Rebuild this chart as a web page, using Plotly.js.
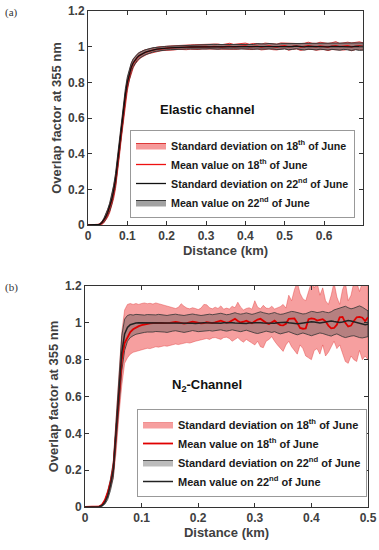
<!DOCTYPE html>
<html><head><meta charset="utf-8">
<script src="https://cdn.plot.ly/plotly-3.0.1.min.js"></script>
<style>html,body{margin:0;padding:0;background:#fff}#chart{width:379px;height:550px}</style>
</head><body><div id="chart"></div>
<script>
// ---------- Panel (a): Elastic channel ----------
const topX = [
0,0.01,0.02,0.025,0.03,0.035,0.04,0.045,0.05,0.055,
0.06,0.065,0.07,0.075,0.08,0.085,0.09,0.095,0.1,0.105,
0.11,0.115,0.12,0.125,0.13,0.135,0.14,0.145,0.15,0.155,
0.16,0.165,0.17,0.175,0.18,0.185,0.19,0.195,0.2,
0.21,0.22,0.23,0.24,0.25,0.26,0.27,0.28,0.29,0.3,
0.31,0.32,0.33,0.34,0.35,0.36,0.37,0.38,0.39,0.4,
0.41,0.42,0.43,0.44,0.45,0.46,0.47,0.48,0.49,0.5,
0.51,0.52,0.53,0.54,0.55,0.56,0.57,0.58,0.59,0.6,
0.61,0.62,0.63,0.64,0.65,0.66,0.67,0.68,0.69,0.7];
const topMean18 = [
0,0,0,0.001,0.003,0.01,0.022,0.04,0.063,0.092,
0.13,0.178,0.24,0.33,0.43,0.53,0.625,0.71,0.785,0.84,
0.878,0.905,0.924,0.937,0.948,0.956,0.962,0.967,0.971,0.975,
0.978,0.981,0.983,0.985,0.987,0.988,0.989,0.99,0.991,
0.993,0.994,0.996,0.997,0.996,0.998,0.999,0.998,1.0,1.001,
0.999,1.002,1.0,0.998,1.001,1.003,0.999,1.0,1.002,1.004,
0.999,1.001,1.003,0.998,1.002,1.004,1.0,0.998,1.003,1.005,
0.999,1.002,1.004,0.998,1.001,1.005,1.002,0.999,1.004,1.002,
0.998,1.003,1.006,1.0,1.002,1.005,0.999,1.003,1.006,1.001];
const topSd18 = [
0,0,0,0.001,0.003,0.007,0.011,0.015,0.019,0.023,
0.027,0.031,0.035,0.037,0.039,0.039,0.037,0.035,0.031,0.028,
0.025,0.023,0.021,0.019,0.018,0.017,0.016,0.015,0.014,0.014,
0.013,0.013,0.012,0.012,0.012,0.011,0.011,0.011,0.011,
0.011,0.012,0.011,0.012,0.013,0.012,0.012,0.014,0.013,0.012,
0.014,0.013,0.015,0.013,0.014,0.016,0.014,0.015,0.013,0.016,
0.015,0.017,0.014,0.016,0.018,0.015,0.017,0.016,0.018,0.015,
0.019,0.017,0.016,0.019,0.018,0.02,0.017,0.019,0.021,0.018,
0.02,0.019,0.022,0.018,0.021,0.02,0.022,0.019,0.021,0.02];
const topMean22 = [
0,0,0,0.001,0.004,0.012,0.026,0.045,0.07,0.1,
0.14,0.19,0.255,0.35,0.45,0.55,0.645,0.73,0.8,0.85,
0.885,0.91,0.928,0.94,0.95,0.957,0.963,0.968,0.972,0.976,
0.979,0.982,0.984,0.986,0.988,0.989,0.99,0.991,0.992,
0.993,0.995,0.996,0.996,0.997,0.998,0.998,0.999,1.0,0.999,
1.0,1.001,0.999,1.0,1.002,1.0,0.999,1.001,1.002,1.0,
1.001,0.999,1.002,1.001,1.0,1.002,1.001,0.999,1.001,1.002,
1.0,1.001,1.003,1.0,0.999,1.002,1.001,1.0,1.003,1.001,
0.999,1.002,1.001,1.0,1.003,1.001,0.999,1.002,1.0,1.001];
const topSd22 = [
0,0,0,0.001,0.003,0.006,0.01,0.014,0.018,0.022,
0.026,0.03,0.034,0.036,0.038,0.038,0.036,0.034,0.03,0.027,
0.024,0.022,0.02,0.018,0.017,0.016,0.015,0.014,0.013,0.013,
0.012,0.012,0.011,0.011,0.011,0.01,0.01,0.01,0.01,
0.01,0.01,0.011,0.011,0.01,0.011,0.012,0.011,0.012,0.012,
0.011,0.012,0.013,0.012,0.013,0.013,0.012,0.014,0.013,0.014,
0.014,0.013,0.015,0.014,0.015,0.016,0.014,0.015,0.016,0.015,
0.017,0.016,0.015,0.017,0.018,0.016,0.017,0.018,0.017,0.019,
0.018,0.017,0.019,0.02,0.018,0.019,0.02,0.019,0.021,0.02];

// ---------- Panel (b): N2 channel ----------
const botX = [
0,0.01,0.02,0.025,0.03,0.035,0.04,0.045,0.05,0.055,
0.06,0.065,0.07,0.075,0.08,0.085,0.09,0.095,0.1,
0.105,0.11,0.115,0.12,0.125,0.13,0.135,0.14,0.145,0.15,
0.155,0.16,0.165,0.17,0.175,0.18,0.185,0.19,0.195,0.2,
0.205,0.21,0.215,0.22,0.225,0.23,0.235,0.24,0.245,0.25,
0.255,0.26,0.265,0.27,0.275,0.28,0.285,0.29,0.295,0.3,
0.305,0.31,0.315,0.32,0.325,0.33,0.335,0.34,0.345,0.35,
0.355,0.36,0.365,0.37,0.375,0.38,0.385,0.39,0.395,0.4,
0.405,0.41,0.415,0.42,0.425,0.43,0.435,0.44,0.445,0.45,
0.455,0.46,0.465,0.47,0.475,0.48,0.485,0.49,0.495,0.5];
const botMean18 = [
0,0,0,0.003,0.012,0.035,0.075,0.13,0.21,0.4,
0.62,0.8,0.89,0.925,0.95,0.965,0.975,0.982,0.988,
0.992,0.995,0.997,0.999,1.0,1.002,1.0,0.998,0.997,1.0,
1.003,1.005,1.002,0.999,0.996,0.998,1.002,1.006,1.004,1.0,
0.997,0.999,1.003,1.001,0.998,1.002,1.008,1.012,1.006,1.0,
1.004,1.015,1.022,1.01,1.002,1.006,1.012,1.004,0.998,1.008,
1.018,1.022,1.01,1.0,0.994,1.004,1.012,0.998,0.988,0.986,
0.995,1.022,1.025,1.024,1.0,0.972,0.968,0.97,1.02,1.024,
1.022,1.012,1.016,1.02,1.008,0.985,0.97,0.972,0.99,1.03,
1.032,1.0,0.98,0.985,1.01,1.03,1.032,1.028,1.01,1.03];
const botUp18 = [
0,0,0,0.004,0.016,0.045,0.09,0.15,0.25,0.5,
0.75,0.95,1.07,1.1,1.105,1.1,1.105,1.1,1.105,
1.108,1.104,1.106,1.102,1.108,1.104,1.1,1.096,1.09,1.085,
1.082,1.078,1.084,1.104,1.09,1.08,1.076,1.082,1.078,1.072,
1.08,1.1,1.098,1.082,1.076,1.085,1.078,1.092,1.074,1.08,
1.075,1.09,1.082,1.112,1.085,1.07,1.078,1.082,1.074,1.12,
1.085,1.076,1.095,1.08,1.078,1.09,1.075,1.082,1.088,1.1,
1.08,1.15,1.12,1.18,1.22,1.16,1.13,1.12,1.17,1.22,
1.19,1.22,1.15,1.19,1.12,1.1,1.15,1.22,1.14,1.1,
1.18,1.22,1.12,1.15,1.22,1.22,1.17,1.22,1.22,1.22];
const botLo18 = [
0,0,0,0.001,0.006,0.02,0.05,0.1,0.16,0.3,
0.5,0.66,0.78,0.81,0.83,0.84,0.845,0.85,0.855,
0.858,0.862,0.86,0.865,0.87,0.868,0.872,0.875,0.873,0.878,
0.88,0.885,0.882,0.888,0.89,0.893,0.89,0.895,0.9,0.905,
0.91,0.912,0.915,0.91,0.918,0.92,0.915,0.91,0.92,0.922,
0.915,0.9,0.91,0.92,0.905,0.895,0.91,0.9,0.89,0.88,
0.9,0.87,0.865,0.9,0.91,0.925,0.9,0.88,0.86,0.845,
0.88,0.9,0.87,0.85,0.83,0.88,0.86,0.82,0.81,0.8,
0.85,0.86,0.83,0.88,0.82,0.84,0.87,0.9,0.86,0.88,
0.83,0.79,0.78,0.82,0.8,0.79,0.85,0.8,0.82,0.8];
const botMean22 = [
0,0,0,0.002,0.008,0.025,0.06,0.12,0.2,0.4,
0.63,0.84,0.94,0.975,0.99,0.996,0.999,1.0,1.0,
1.0,1.001,1.0,0.999,1.0,1.002,1.001,1.0,0.998,0.999,
1.001,1.002,1.0,0.999,1.0,1.001,1.0,0.998,0.997,0.999,
1.0,1.001,1.0,0.999,0.998,0.997,0.996,0.998,1.0,1.001,
1.002,1.0,0.999,0.998,0.996,0.995,0.997,0.999,1.0,1.002,
1.003,1.001,0.999,0.998,0.997,0.996,0.998,1.0,1.002,1.004,
1.003,1.0,0.998,0.996,0.995,0.997,1.0,1.003,1.005,1.006,
1.004,1.001,0.999,1.002,1.005,1.008,1.01,1.007,1.004,1.002,
1.005,1.009,1.012,1.01,1.006,1.0,0.996,0.993,0.99,0.992];
const botUp22 = [
0,0,0,0.003,0.012,0.035,0.08,0.15,0.24,0.48,
0.72,0.93,1.02,1.04,1.045,1.042,1.046,1.044,1.043,
1.042,1.045,1.044,1.04,1.043,1.046,1.044,1.041,1.04,1.043,
1.045,1.047,1.044,1.042,1.04,1.043,1.046,1.048,1.045,1.042,
1.04,1.042,1.045,1.047,1.044,1.046,1.05,1.052,1.048,1.044,
1.046,1.052,1.055,1.05,1.047,1.05,1.054,1.05,1.046,1.05,
1.056,1.06,1.055,1.05,1.048,1.052,1.056,1.05,1.046,1.048,
1.052,1.058,1.062,1.06,1.056,1.05,1.048,1.05,1.058,1.062,
1.06,1.056,1.058,1.062,1.058,1.055,1.06,1.07,1.075,1.08,
1.085,1.09,1.082,1.076,1.08,1.088,1.092,1.085,1.075,1.065];
const botLo22 = [
0,0,0,0.001,0.004,0.015,0.04,0.09,0.16,0.33,
0.55,0.74,0.85,0.9,0.92,0.93,0.938,0.943,0.946,
0.948,0.95,0.952,0.95,0.953,0.955,0.952,0.95,0.948,0.952,
0.955,0.957,0.954,0.951,0.948,0.95,0.954,0.958,0.955,0.952,
0.95,0.953,0.956,0.958,0.955,0.957,0.96,0.962,0.958,0.955,
0.958,0.962,0.96,0.955,0.952,0.956,0.96,0.956,0.95,0.945,
0.942,0.945,0.95,0.955,0.952,0.948,0.952,0.945,0.94,0.942,
0.948,0.952,0.945,0.94,0.935,0.94,0.945,0.942,0.935,0.93,
0.935,0.94,0.945,0.942,0.938,0.932,0.928,0.935,0.94,0.932,
0.925,0.92,0.922,0.928,0.93,0.925,0.92,0.918,0.922,0.925];

const L18sd = 'Standard deviation on 18<sup>th</sup> of June';
const L18m  = 'Mean value on 18<sup>th</sup> of June';
const L22sd = 'Standard deviation on 22<sup>nd</sup> of June';
const L22m  = 'Mean value on 22<sup>nd</sup> of June';

function poly(x, up, lo) {
  return { x: x.concat(x.slice().reverse()), y: up.concat(lo.slice().reverse()) };
}
const topUp18 = topMean18.map((v, i) => v + topSd18[i]);
const topLo18 = topMean18.map((v, i) => Math.max(0, v - topSd18[i]));
const topUp22 = topMean22.map((v, i) => v + topSd22[i]);
const topLo22 = topMean22.map((v, i) => Math.max(0, v - topSd22[i]));

const p1 = poly(topX, topUp18, topLo18), p2 = poly(topX, topUp22, topLo22);
const p3 = poly(botX, botUp18, botLo18), p4 = poly(botX, botUp22, botLo22);

const traces = [
  {x: p1.x, y: p1.y, xaxis: 'x', yaxis: 'y', type: 'scatter', mode: 'lines', fill: 'toself',
   fillcolor: 'rgba(240,100,100,0.65)', line: {color: 'rgba(215,30,30,0.95)', width: 0.9},
   name: L18sd, legend: 'legend', legendrank: 1, hoverinfo: 'skip'},
  {x: p2.x, y: p2.y, xaxis: 'x', yaxis: 'y', type: 'scatter', mode: 'lines', fill: 'toself',
   fillcolor: 'rgba(100,100,100,0.6)', line: {color: '#3a3a3a', width: 1},
   name: L22m, legend: 'legend', legendrank: 4, hoverinfo: 'skip'},
  {x: topX, y: topMean18, xaxis: 'x', yaxis: 'y', type: 'scatter', mode: 'lines',
   line: {color: '#ee1111', width: 1.3}, name: L18m, legend: 'legend', legendrank: 2, hoverinfo: 'skip'},
  {x: topX, y: topMean22, xaxis: 'x', yaxis: 'y', type: 'scatter', mode: 'lines',
   line: {color: '#111', width: 1.3}, name: L22sd, legend: 'legend', legendrank: 3, hoverinfo: 'skip'},

  {x: p3.x, y: p3.y, xaxis: 'x2', yaxis: 'y2', type: 'scatter', mode: 'lines', fill: 'toself',
   fillcolor: 'rgba(240,95,95,0.6)', line: {color: 'rgba(225,50,50,0.8)', width: 0.5},
   name: L18sd, legend: 'legend2', legendrank: 1, hoverinfo: 'skip'},
  {x: p4.x, y: p4.y, xaxis: 'x2', yaxis: 'y2', type: 'scatter', mode: 'lines', fill: 'toself',
   fillcolor: 'rgba(80,80,80,0.38)', line: {color: '#333', width: 0.8},
   name: L22sd, legend: 'legend2', legendrank: 3, hoverinfo: 'skip'},
  {x: botX, y: botMean18, xaxis: 'x2', yaxis: 'y2', type: 'scatter', mode: 'lines',
   line: {color: '#e00000', width: 1.8}, name: L18m, legend: 'legend2', legendrank: 2, hoverinfo: 'skip'},
  {x: botX, y: botMean22, xaxis: 'x2', yaxis: 'y2', type: 'scatter', mode: 'lines',
   line: {color: '#222', width: 1.5}, name: L22m, legend: 'legend2', legendrank: 4, hoverinfo: 'skip'}
];

const tickFont = {family: 'Liberation Sans, Arial, sans-serif', size: 12, color: '#404040', weight: 'bold'};
const titleFont = {family: 'Liberation Sans, Arial, sans-serif', size: 13, color: '#404040', weight: 'bold'};
const common = {showline: true, linecolor: '#333', linewidth: 1, mirror: 'ticks', ticks: 'inside',
  ticklen: 4, tickcolor: '#333', showgrid: false, zeroline: false, tickfont: tickFont,
  automargin: false, fixedrange: true};

const legendBase = {xanchor: 'left', yanchor: 'top', bgcolor: '#fff', bordercolor: '#999', borderwidth: 1,
  itemwidth: 30, traceorder: 'normal',
  font: {family: 'Liberation Sans, Arial, sans-serif', size: 10.7, color: '#1a1a1a', weight: 'bold'}};

const layout = {
  width: 379, height: 550, margin: {l: 0, r: 0, t: 0, b: 0},
  paper_bgcolor: '#fff', plot_bgcolor: '#fff', showlegend: true,
  font: {family: 'Liberation Sans, Arial, sans-serif', color: '#333'},
  xaxis: Object.assign({}, common, {domain: [88/379, 363/379], anchor: 'y', range: [0, 0.699], tick0: 0, dtick: 0.1,
    title: {text: 'Distance (km)', font: titleFont, standoff: 3}}),
  yaxis: Object.assign({}, common, {domain: [1 - 225/550, 1 - 11/550], anchor: 'x', range: [0, 1.2], tick0: 0, dtick: 0.2,
    title: {text: 'Overlap factor at 355 nm', font: titleFont, standoff: 3}}),
  xaxis2: Object.assign({}, common, {domain: [85/379, 368/379], anchor: 'y2', range: [0, 0.5], tick0: 0, dtick: 0.1,
    title: {text: 'Distance (km)', font: titleFont, standoff: 3}}),
  yaxis2: Object.assign({}, common, {domain: [1 - 507/550, 1 - 286/550], anchor: 'x2', range: [0, 1.2], tick0: 0, dtick: 0.2,
    title: {text: 'Overlap factor at 355 nm', font: titleFont, standoff: 3}}),
  legend: Object.assign({}, legendBase, {x: 130/379, y: 1 - 130/550}),
  legend2: Object.assign({}, legendBase, {x: 137/379, y: 1 - 409/550,
    font: Object.assign({}, legendBase.font, {size: 11})}),
  annotations: [
    {text: '(a)', xref: 'paper', yref: 'paper', x: 3/379, y: 1 - 12/550, xanchor: 'left', yanchor: 'middle',
     showarrow: false, font: {family: 'Liberation Serif, serif', size: 11, color: '#333'}},
    {text: '(b)', xref: 'paper', yref: 'paper', x: 3/379, y: 1 - 287/550, xanchor: 'left', yanchor: 'middle',
     showarrow: false, font: {family: 'Liberation Serif, serif', size: 11, color: '#333'}},
    {text: 'Elastic channel', xref: 'paper', yref: 'paper', x: 158/379, y: 1 - 109/550, xanchor: 'left', yanchor: 'middle',
     showarrow: false, font: {family: 'Liberation Sans, Arial, sans-serif', size: 13, color: '#111', weight: 'bold'}},
    {text: 'N<sub>2</sub>-Channel', xref: 'paper', yref: 'paper', x: 170/379, y: 1 - 385/550, xanchor: 'left', yanchor: 'middle',
     showarrow: false, font: {family: 'Liberation Sans, Arial, sans-serif', size: 13, color: '#111', weight: 'bold'}}
  ]
};

Plotly.newPlot('chart', traces, layout, {staticPlot: true, displayModeBar: false});
</script>
</body></html>
